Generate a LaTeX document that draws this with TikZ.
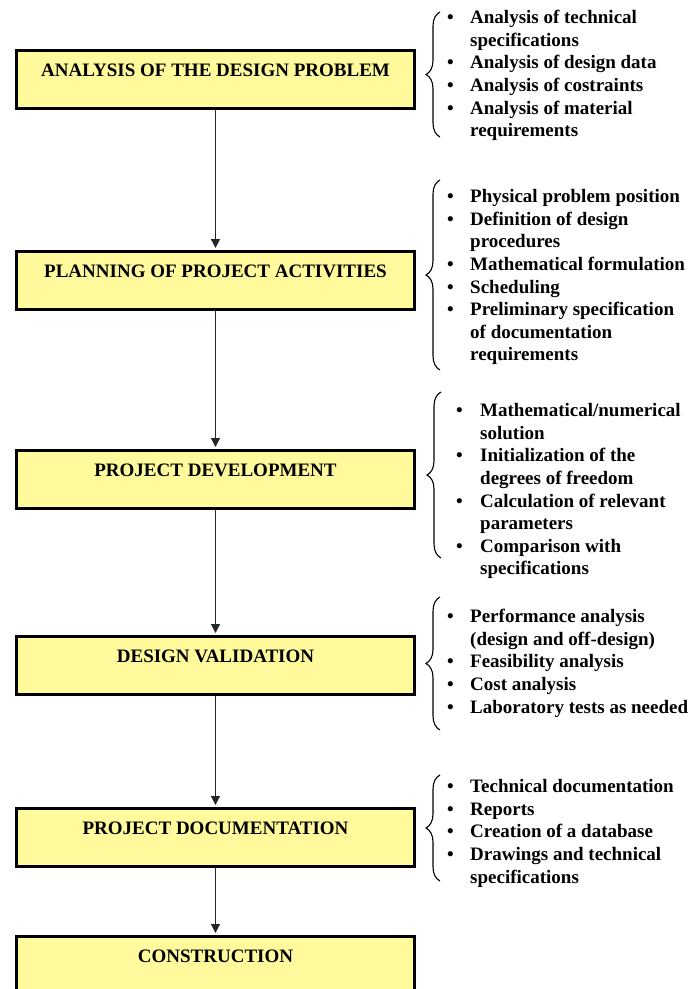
\documentclass[tikz,border=0pt]{standalone}
\usepackage{fontspec}
\setmainfont{Liberation Serif}
\usetikzlibrary{arrows.meta,decorations.pathreplacing}
\definecolor{boxfill}{RGB}{255,250,155}
\newcommand\bl{\rule{0pt}{13.5pt}\makebox[23pt][l]{\textbullet}}
\newcommand\ct{\rule{0pt}{13.5pt}\hspace*{23pt}}
\newcommand\blw{\rule{0pt}{13.5pt}\makebox[24pt][l]{\textbullet}}
\newcommand\ctw{\rule{0pt}{13.5pt}\hspace*{24pt}}
\begin{document}
\begin{tikzpicture}[x=1pt,y=-1pt,
  stage/.style={draw=black, line width=3pt, fill=boxfill, minimum width=398pt,
    text height=26.5pt, text depth=31.5pt, inner ysep=0pt, inner xsep=0pt,
    anchor=north, font=\fontsize{19}{22.6}\selectfont\bfseries},
  flow/.style={-{Triangle[length=9pt,width=9pt]}, line width=1.2pt, draw=black!85, shorten >=1.5pt},
  curly/.style={decorate, decoration={brace, amplitude=14pt}, line width=1.1pt},
  items/.style={anchor=north west, inner sep=0pt, align=left, font=\fontsize{19}{22.6}\selectfont\bfseries}]
\useasboundingbox (0,0) rectangle (691,989);
\fill[white] (0,0) rectangle (691,989);

\node[stage] (s1) at (215.5,48.5) {ANALYSIS OF THE DESIGN PROBLEM};
\node[stage] (s2) at (215.5,249.5) {PLANNING OF PROJECT ACTIVITIES};
\node[stage] (s3) at (215.5,448.5) {PROJECT DEVELOPMENT};
\node[stage] (s4) at (215.5,634.5) {DESIGN VALIDATION};
\node[stage] (s5) at (215.5,806.5) {PROJECT DOCUMENTATION};
\node[stage] (s6) at (215.5,934.5) {CONSTRUCTION};

\draw[flow] (s1.south) -- (s2.north);
\draw[flow] (s2.south) -- (s3.north);
\draw[flow] (s3.south) -- (s4.north);
\draw[flow] (s4.south) -- (s5.north);
\draw[flow] (s5.south) -- (s6.north);

\coordinate (b1t) at (440,12);  \coordinate (b1b) at (440,137);
\coordinate (b2t) at (440,180); \coordinate (b2b) at (440,370);
\coordinate (b3t) at (441,392); \coordinate (b3b) at (441,558);
\coordinate (b4t) at (440,597); \coordinate (b4b) at (440,730);
\coordinate (b5t) at (440,775); \coordinate (b5b) at (440,881);
\draw[curly] (b1b) -- (b1t);
\draw[curly] (b2b) -- (b2t);
\draw[curly] (b3b) -- (b3t);
\draw[curly] (b4b) -- (b4t);
\draw[curly] (b5b) -- (b5t);

\node[items] (l1) at (447,10) {\bl Analysis of technical\\\ct specifications\\\bl Analysis of design data\\\bl Analysis of costraints\\\bl Analysis of material\\\ct requirements};
\node[items] (l2) at (447,189) {\bl Physical problem position\\\bl Definition of design\\\ct procedures\\\bl Mathematical formulation\\\bl Scheduling\\\bl Preliminary specification\\\ct of documentation\\\ct requirements};
\node[items] (l3) at (456,403) {\blw Mathematical/numerical\\\ctw solution\\\blw Initialization of the\\\ctw degrees of freedom\\\blw Calculation of relevant\\\ctw parameters\\\blw Comparison with\\\ctw specifications};
\node[items] (l4) at (447,609) {\bl Performance analysis\\\ct (design and off-design)\\\bl Feasibility analysis\\\bl Cost analysis\\\bl Laboratory tests as needed};
\node[items] (l5) at (447,779) {\bl Technical documentation\\\bl Reports\\\bl Creation of a database\\\bl Drawings and technical\\\ct specifications};
\end{tikzpicture}
\end{document}
